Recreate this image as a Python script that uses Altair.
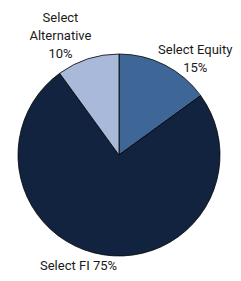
import altair as alt
import pandas as pd

categories = ["Select Equity", "Select FI", "Select Alternative"]
values = [15, 75, 10]
labels = ["Select Equity\n15%", "Select FI 75%", "Select\nAlternative\n10%"]
colors = ["#3E6798", "#12233F", "#A9B9D9"]

df = pd.DataFrame({"cat": categories, "val": values, "label": labels, "order": [0, 1, 2]})

CX, CY, R = 111, 147, 101

pie = alt.Chart(df).mark_arc(radius=R, stroke="black", strokeWidth=0.8).encode(
    theta=alt.Theta("val:Q", stack=True),
    order=alt.Order("order:Q"),
    color=alt.Color("cat:N", scale=alt.Scale(domain=categories, range=colors), legend=None),
    x=alt.value(CX), y=alt.value(CY),
)

lab_base = alt.Chart(df).transform_window(
    cum="sum(val)", sort=[alt.SortField("order")], frame=[None, 0]
).transform_joinaggregate(total="sum(val)").transform_calculate(
    mid="(datum.cum - datum.val / 2) / datum.total"
)

offsets = {"Select Equity": (24, -3), "Select FI": (-22.5, -2.5), "Select Alternative": (-23, -27.5)}
layers = [pie]
for c in categories:
    dx, dy = offsets[c]
    t = lab_base.transform_filter(alt.datum.cat == c).mark_text(
        radius=115, dx=dx, dy=dy,
        font="Roboto", fontSize=13, color="#1a1a1a",
        lineBreak="\n", lineHeight=18, align="center", baseline="middle",
    ).encode(
        theta=alt.Theta("mid:Q", scale=alt.Scale(domain=[0, 1], range=[0, 6.283185307179586]), stack=None),
        text="label:N", x=alt.value(CX), y=alt.value(CY),
    )
    layers.append(t)

chart = alt.layer(*layers).resolve_scale(theta="independent").properties(
    width=225, height=265, padding=0, autosize=alt.AutoSizeParams(type="none")
).configure_view(stroke=None)

chart.save("out.html", embed_options={"renderer": "svg", "actions": False})
